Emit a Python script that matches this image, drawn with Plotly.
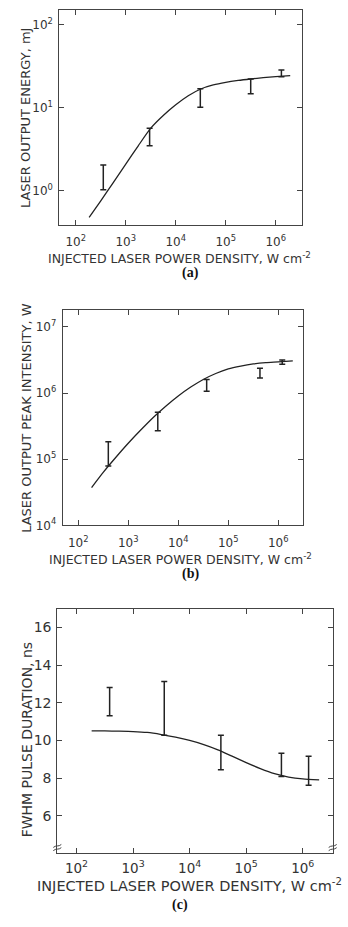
import plotly.graph_objects as go

W, H = 348, 927

# ---------------- data ----------------
x_tickvals = [1e2, 1e3, 1e4, 1e5, 1e6]
x_ticktext = ["10<sup>2</sup>", "10<sup>3</sup>", "10<sup>4</sup>", "10<sup>5</sup>", "10<sup>6</sup>"]

curve_x = [185, 316, 562, 1000, 1778, 3162, 5623, 10000, 17783, 31623, 56234,
           100000, 177828, 316228, 562341, 1000000, 1950000]

# (a) laser output energy, mJ
a_curve_y = [0.48, 0.76, 1.26, 2.1, 3.5, 5.7, 8.1, 10.9, 14.0, 16.9, 18.9,
             20.3, 21.4, 22.3, 23.1, 23.8, 24.5]
a_x = [355, 3000, 31000, 316000, 1300000]
a_lo = [1.03, 3.5, 10.2, 14.8, 23.8]
a_hi = [2.05, 5.7, 17.0, 22.3, 28.6]
a_ytickvals = [1, 10, 100]
a_yticktext = ["10<sup>0</sup>", "10<sup>1</sup>", "10<sup>2</sup>"]

# (b) laser output peak intensity, W
b_curve_y = [37200, 63100, 105900, 173800, 275400, 426600, 631000, 901600, 1230000,
             1603000, 1972000, 2317000, 2560000, 2754000, 2880000, 2951000, 3055000]
b_x = [400, 3900, 37000, 430000, 1200000]
b_lo = [79000, 270000, 1060000, 1680000, 2720000]
b_hi = [184000, 510000, 1600000, 2370000, 3160000]
b_ytickvals = [1e4, 1e5, 1e6, 1e7]
b_yticktext = ["10<sup>4</sup>", "10<sup>5</sup>", "10<sup>6</sup>", "10<sup>7</sup>"]

# (c) FWHM pulse duration, ns
c_curve_y = [10.5, 10.5, 10.49, 10.47, 10.42, 10.31, 10.17, 10.0, 9.78, 9.5, 9.16,
             8.82, 8.5, 8.23, 8.05, 7.95, 7.9]
c_x = [385, 3560, 35700, 420000, 1270000]
c_lo = [11.31, 10.27, 8.44, 8.08, 7.61]
c_hi = [12.81, 13.13, 10.27, 9.32, 9.15]
c_ytickvals = [6, 8, 10, 12, 14, 16]

# ---------------- helpers ----------------
def px(x):
    return x / W

def py(y):
    return 1 - y / H

INK = "#222222"
AX = "#444444"
FONT = "DejaVu Sans"

def err_trace(xs, lo, hi, xa, ya, log):
    if log:
        mid = [(l * h) ** 0.5 for l, h in zip(lo, hi)]
    else:
        mid = [(l + h) / 2 for l, h in zip(lo, hi)]
    return go.Scatter(
        x=xs, y=mid, xaxis=xa, yaxis=ya, mode="markers",
        marker=dict(size=1, color="rgba(0,0,0,0)"),
        error_y=dict(type="data", symmetric=False,
                     array=[h - m for h, m in zip(hi, mid)],
                     arrayminus=[m - l for m, l in zip(mid, lo)],
                     color=INK, thickness=1.5, width=3),
        showlegend=False, hoverinfo="skip")

def curve_trace(xs, ys, xa, ya):
    return go.Scatter(x=xs, y=ys, xaxis=xa, yaxis=ya, mode="lines",
                      line=dict(color=INK, width=1.3, shape="spline", smoothing=0.6),
                      showlegend=False, hoverinfo="skip")

fig = go.Figure()
fig.add_trace(curve_trace(curve_x, a_curve_y, "x", "y"))
fig.add_trace(err_trace(a_x, a_lo, a_hi, "x", "y", True))
fig.add_trace(curve_trace(curve_x, b_curve_y, "x2", "y2"))
fig.add_trace(err_trace(b_x, b_lo, b_hi, "x2", "y2", True))
fig.add_trace(curve_trace(curve_x, c_curve_y, "x3", "y3"))
fig.add_trace(err_trace(c_x, c_lo, c_hi, "x3", "y3", False))

def axis_common(fs, standoff=None):
    d = dict(showline=True, linecolor=AX, linewidth=1, mirror="ticks",
             ticks="inside", ticklen=5, tickcolor=AX, tickwidth=1,
             showgrid=False, zeroline=False,
             tickfont=dict(family=FONT, size=fs, color="#333333"))
    if standoff is not None:
        d["ticklabelstandoff"] = standoff
    return d

# panel boxes in pixels: (left, right, top, bottom)
box_a = (59.3, 301.7, 10.0, 226.7)
box_b = (62.7, 303.3, 312.7, 529.3)
box_c = (57.3, 332.7, 613.3, 859.0)

def xdom(b):
    return [px(b[0]), px(b[1])]

def ydom(b):
    return [py(b[3]), py(b[2])]

layout = dict(
    width=W, height=H, margin=dict(l=0, r=0, t=0, b=0),
    paper_bgcolor="white", plot_bgcolor="white", showlegend=False,
    xaxis=dict(domain=xdom(box_a), anchor="y", type="log", range=[1.67, 6.52],
               tickvals=x_tickvals, ticktext=x_ticktext, **axis_common(12, 6)),
    yaxis=dict(domain=ydom(box_a), anchor="x", type="log", range=[-0.41, 2.18],
               tickvals=a_ytickvals, ticktext=a_yticktext, **axis_common(12, 3)),
    xaxis2=dict(domain=xdom(box_b), anchor="y2", type="log", range=[1.69, 6.5],
                tickvals=x_tickvals, ticktext=x_ticktext, **axis_common(12, 6)),
    yaxis2=dict(domain=ydom(box_b), anchor="x2", type="log", range=[4.0, 7.25],
                tickvals=b_ytickvals, ticktext=b_yticktext, **axis_common(12, 3)),
    xaxis3=dict(domain=xdom(box_c), anchor="y3", type="log", range=[1.66, 6.53],
                tickvals=x_tickvals, ticktext=x_ticktext, **axis_common(13.5, 3)),
    yaxis3=dict(domain=ydom(box_c), anchor="x3", range=[4.04, 17.0],
                tickvals=c_ytickvals, **axis_common(14, 2)),
)
fig.update_layout(**layout)

ann = []
def text(x, y, s, size, angle=0, family=FONT, color="#333333", bold=False):
    ann.append(dict(x=px(x), y=py(y), xref="paper", yref="paper", text=("<b>%s</b>" % s if bold else s),
                    showarrow=False, textangle=angle, xanchor="center", yanchor="middle",
                    font=dict(family=family, size=size, color=color)))

# axis titles
text(25, 119, "LASER OUTPUT ENERGY, mJ", 13, -90)
text(179, 260, "INJECTED LASER POWER DENSITY, W cm<sup>-2</sup>", 12.5)
text(190, 275, "(a)", 14, family="Liberation Serif", color="#111111", bold=True)

text(27, 422, "LASER OUTPUT PEAK INTENSITY, W", 13, -90)
text(181, 563, "INJECTED LASER POWER DENSITY, W cm<sup>-2</sup>", 12.5)
text(190, 578, "(b)", 14, family="Liberation Serif", color="#111111", bold=True)

text(27, 745, "FWHM PULSE DURATION, ns", 14, -90)
text(189, 892, "INJECTED LASER POWER DENSITY, W cm<sup>-2</sup>", 14.5)
text(180, 912, "(c)", 14, family="Liberation Serif", color="#111111", bold=True)

fig.update_layout(annotations=ann)

# axis break marks on the bottom of the left and right axes of (c)
shapes = []
for xc in (box_c[0], box_c[1]):
    for dy in (-1.6, 1.6):
        yc = 854 + dy
        pts = [(xc - 4, yc + 1.5), (xc - 1.5, yc - 1.0), (xc + 1.5, yc + 1.0), (xc + 4, yc - 1.5)]
        path = "M %f,%f C %f,%f %f,%f %f,%f" % (
            px(pts[0][0]), py(pts[0][1]), px(pts[1][0]), py(pts[1][1]),
            px(pts[2][0]), py(pts[2][1]), px(pts[3][0]), py(pts[3][1]))
        shapes.append(dict(type="path", xref="paper", yref="paper", path=path,
                           line=dict(color=AX, width=1)))
fig.update_layout(shapes=shapes)

fig.write_html("out.html")
